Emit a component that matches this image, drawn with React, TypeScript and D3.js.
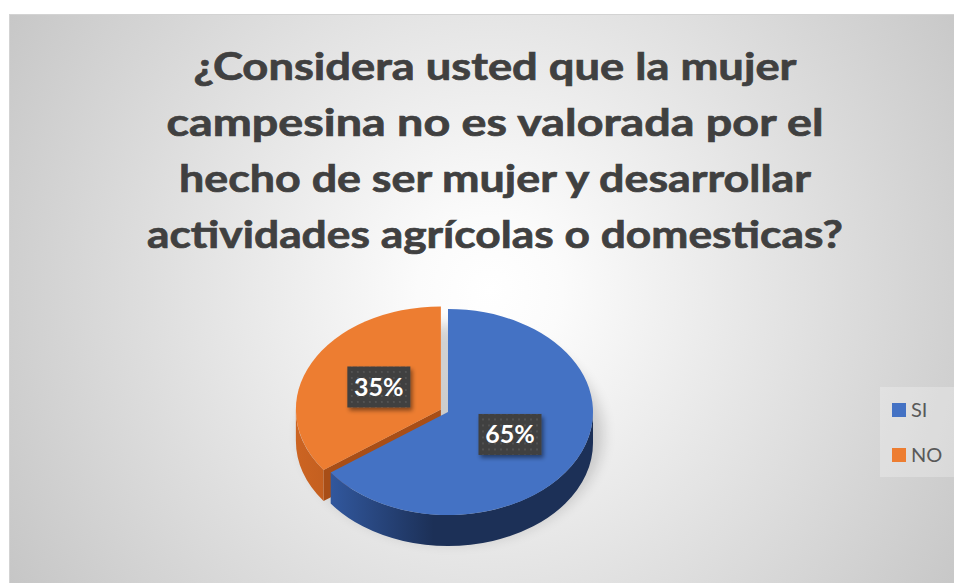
import React from 'react';
import * as d3 from 'd3';

// chart data
const TITLE_LINES = [
  '¿Considera usted que la mujer',
  'campesina no es valorada por el',
  'hecho de ser mujer y desarrollar',
  'actividades agrícolas o domesticas?',
];
const CATEGORIES = ['SI', 'NO'];
const VALUES = [65, 35];
const LABELS = ['65%', '35%'];

// look
const TOP_COLORS = ['#4472c4', '#ed7d31'];
const SIDE_COLORS = [
  ['#3762b0', '#1c3057'],
  ['#cc6422', '#a84e17'],
];
const FONT = 'Lato, "Open Sans", sans-serif';

const W = 954;
const H = 583;

export default function App() {
  // pie geometry (3D look: ellipse top + extruded side)
  const cx = 448;
  const cy = 412;
  const rx = 145;
  const ry = 103;
  const k = ry / rx;
  const depth = 31;
  const explode = [0, 8];
  const labelR = 0.48;

  const arcs = d3.pie<number>().sort(null).value(d => d)(VALUES);
  const topArc = d3.arc<d3.PieArcDatum<number>>().innerRadius(0).outerRadius(rx);

  const pt = (a: number): [number, number] => [rx * Math.sin(a), -ry * Math.cos(a)];

  const sidePath = (a0: number, a1: number) => {
    const s = Math.max(a0, Math.PI / 2);
    const e = Math.min(a1, (3 * Math.PI) / 2);
    if (e <= s) return null;
    const [x0, y0] = pt(s);
    const [x1, y1] = pt(e);
    const large = e - s > Math.PI ? 1 : 0;
    return `M${x0},${y0} A${rx},${ry} 0 ${large} 1 ${x1},${y1} L${x1},${y1 + depth} A${rx},${ry} 0 ${large} 0 ${x0},${y0 + depth} Z`;
  };

  const facePath = (a: number) => {
    const [x, y] = pt(a);
    return `M0,0 L${x},${y} L${x},${y + depth} L0,${depth} Z`;
  };

  const slices = arcs.map((d, i) => {
    const mid = (d.startAngle + d.endAngle) / 2;
    const ox = Math.sin(mid) * explode[i];
    const oy = -Math.cos(mid) * explode[i] * k;
    // start face visible when its normal points toward viewer
    const startVisible = -Math.cos(d.startAngle - Math.PI / 2) > 0.05 && explode[i] > 0;
    const lx = ox + Math.sin(mid) * rx * labelR;
    const ly = oy - Math.cos(mid) * ry * labelR;
    return { d, i, ox, oy, startVisible, lx, ly };
  });

  // back slices first (exploded one sits behind)
  const order = [...slices].sort((a, b) => b.i - a.i);

  const titleX = 495;
  const titleY0 = 80;
  const titleStep = 56;
  const titleLen = [603, 657, 632, 696];

  const boxW = 63;
  const boxH = 41;

  return (
    <svg
      width={W}
      height={H}
      style={{ position: 'absolute', left: 0, top: 0, display: 'block' }}
    >
      <defs>
        <radialGradient id="bg" gradientUnits="userSpaceOnUse" cx={490} cy={290} r={600}>
          <stop offset="0" stopColor="#ffffff" />
          <stop offset="0.12" stopColor="#fbfbfb" />
          <stop offset="1" stopColor="#c2c2c2" />
        </radialGradient>
        {SIDE_COLORS.map((c, i) => (
          <linearGradient key={i} id={`side${i}`} gradientUnits="userSpaceOnUse" x1={-rx} x2={rx} y1={0} y2={0}>
            <stop offset="0" stopColor={c[0]} />
            <stop offset="0.45" stopColor={c[1]} />
            <stop offset="1" stopColor={c[1]} />
          </linearGradient>
        ))}
        <pattern id="dots" width={6} height={6} patternUnits="userSpaceOnUse">
          <rect width={6} height={6} fill="#3f3f3f" />
          <circle cx={3} cy={3} r={0.9} fill="#5a5a5a" />
        </pattern>
        <filter id="blur" x="-30%" y="-30%" width="160%" height="160%">
          <feGaussianBlur stdDeviation={7} />
        </filter>
        <filter id="lblShadow" x="-20%" y="-20%" width="150%" height="160%">
          <feDropShadow dx={2} dy={3} stdDeviation={2} floodColor="#000" floodOpacity={0.45} />
        </filter>
      </defs>

      {/* chart area */}
      <rect x={9.5} y={14.5} width={1000} height={600} fill="url(#bg)" stroke="#d3d3d3" />

      {/* title */}
      <g
        fontFamily={FONT}
        fontWeight="bold"
        fontSize={38}
        fill="#404040"
        stroke="#404040"
        strokeWidth={0.7}
        textAnchor="middle"
      >
        {TITLE_LINES.map((t, i) => (
          <text
            key={i}
            x={titleX}
            y={titleY0 + i * titleStep}
            textLength={titleLen[i]}
            lengthAdjust="spacingAndGlyphs"
          >
            {t}
          </text>
        ))}
      </g>

      {/* pie shadow */}
      <ellipse cx={cx + 4} cy={cy + depth * 0.7} rx={rx + 6} ry={ry + 6} fill="#000" opacity={0.16} filter="url(#blur)" />

      {/* pie */}
      <g transform={`translate(${cx},${cy})`}>
        {order.map(s => (
          <g key={s.i} transform={`translate(${s.ox},${s.oy})`}>
            {s.startVisible && <path d={facePath(s.d.startAngle)} fill={SIDE_COLORS[s.i][1]} />}
            {sidePath(s.d.startAngle, s.d.endAngle) && (
              <path d={sidePath(s.d.startAngle, s.d.endAngle)!} fill={`url(#side${s.i})`} />
            )}
            <g transform={`scale(1,${k})`}>
              <path d={topArc(s.d) || ''} fill={TOP_COLORS[s.i]} />
            </g>
          </g>
        ))}
        {/* data labels */}
        {slices.map(s => (
          <g key={`l${s.i}`} transform={`translate(${s.lx},${s.ly})`}>
            <rect x={-boxW / 2} y={-boxH / 2} width={boxW} height={boxH} fill="url(#dots)" filter="url(#lblShadow)" />
            <text
              y={0}
              dy="0.36em"
              textAnchor="middle"
              fontFamily={FONT}
              fontWeight="bold"
              fontSize={25}
              fill="#ffffff"
            >
              {LABELS[s.i]}
            </text>
          </g>
        ))}
      </g>

      {/* legend */}
      <rect x={880} y={387} width={90} height={90} fill="#ffffff" opacity={0.25} />
      {CATEGORIES.map((c, i) => (
        <g key={c} transform={`translate(892,${403 + i * 45})`}>
          <rect width={14} height={14} fill={TOP_COLORS[i]} />
          <text x={19} y={7} dy="0.36em" fontFamily={FONT} fontSize={20} fill="#595959">
            {c}
          </text>
        </g>
      ))}
    </svg>
  );
}
